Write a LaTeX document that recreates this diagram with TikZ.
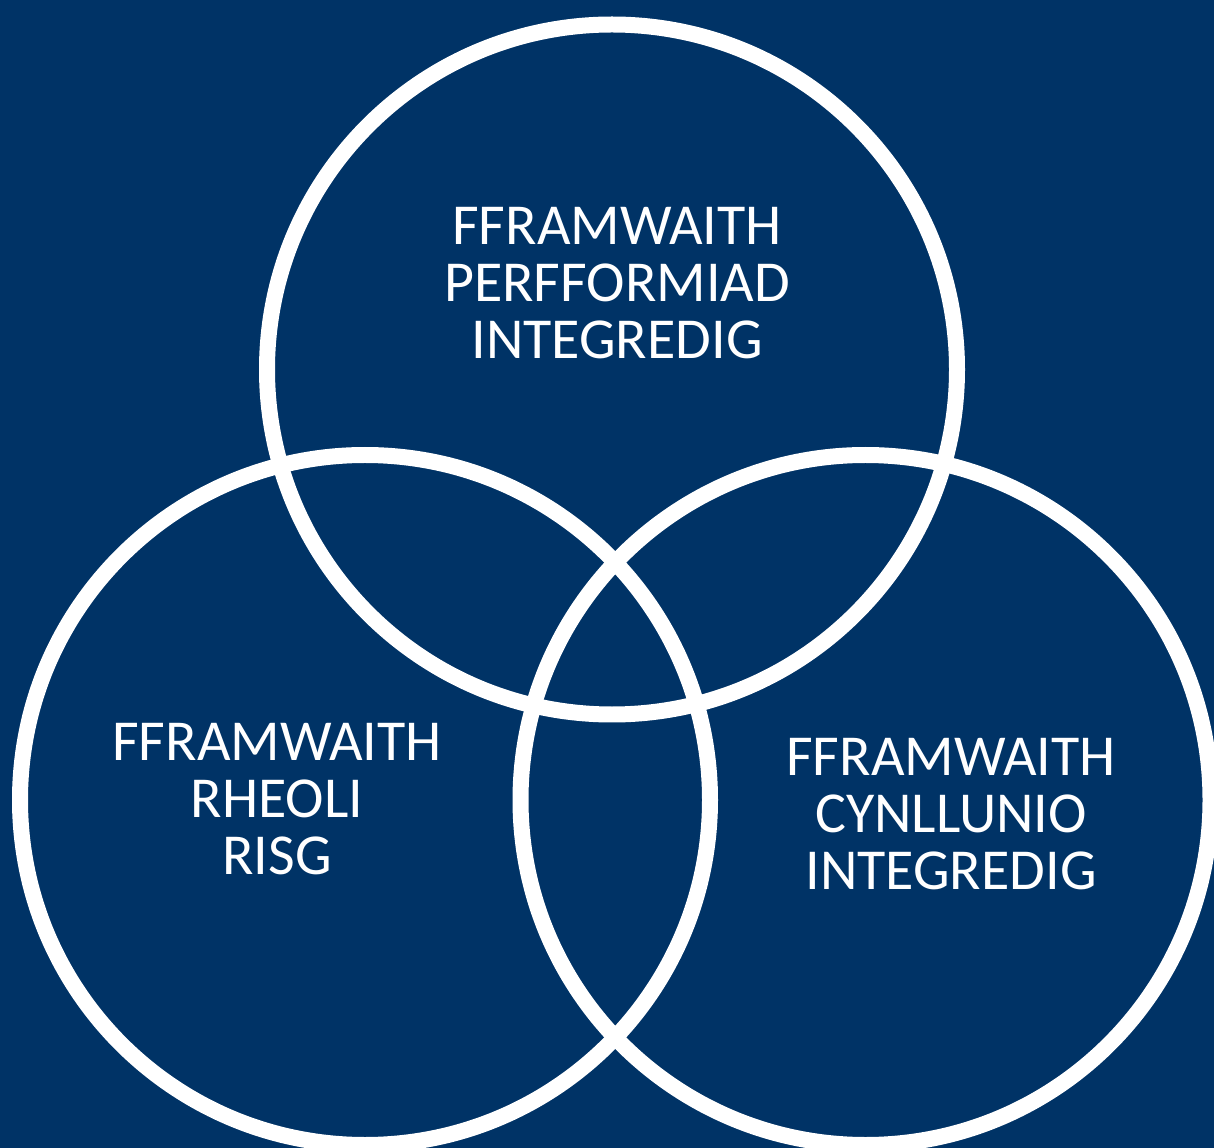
\documentclass[tikz,border=0pt]{standalone}
\usepackage{fontspec}
\setmainfont{Carlito}
\usetikzlibrary{positioning}
\definecolor{navy}{RGB}{0,51,102}
\tikzstyle{every node}=[font=\fontsize{33}{32.5}\selectfont, text=white, align=center]
\tikzstyle{ring} = [draw=white, line width=0.32cm]

\begin{document}
\begin{tikzpicture}[x=0.02cm, y=-0.02cm]
            \fill [navy] (0,0) rectangle (1214,1148);
            \useasboundingbox (0,0) rectangle (1214,1148);
            \clip (0,0) rectangle (1214,1148);
            \draw [ring] (612,369.5) circle (345);
            \draw [ring] (365,800) circle (345);
            \draw [ring] (865.5,800) circle (345);
            \node (perf) at (617,283) {FFRAMWAITH\\PERFFORMIAD\\INTEGREDIG};
            \node (risg) at (277,799) {FFRAMWAITH\\RHEOLI\\RISG};
            \node (cynl) at (951,814) {FFRAMWAITH\\CYNLLUNIO\\INTEGREDIG};
          \end{tikzpicture}
\end{document}
